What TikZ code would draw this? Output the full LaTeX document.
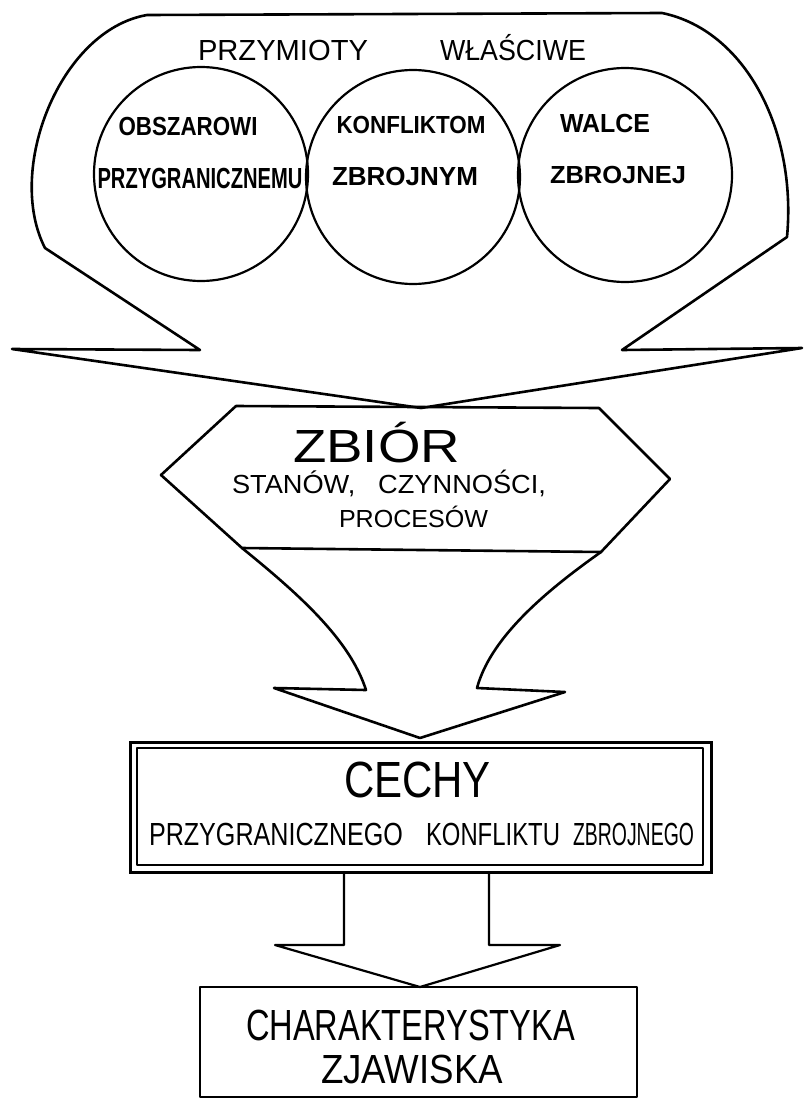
\documentclass[tikz,border=0pt]{standalone}
\usepackage{fontspec}
\usepackage{graphicx}
\setmainfont{Liberation Sans}
\newsavebox\tbox
\newsavebox\cbox
\newlength\twid
\newlength\chgt
\newcommand{\fittext}[3]{%
  \pgfmathsetmacro\myfs{#2*1.4}%
  \fontsize{\myfs pt}{\myfs pt}\selectfont
  \sbox\tbox{#3}\sbox\cbox{H}%
  \setlength\twid{\wd\tbox}\setlength\chgt{\ht\cbox}%
  \pgfmathsetmacro\myxs{#1/\twid}%
  \pgfmathsetmacro\myys{#2/\chgt}%
  \scalebox{\myxs}[\myys]{\usebox\tbox}}
\tikzset{
  outl/.style={draw=black, line width=2.6pt, line join=round, line cap=round},
  thinl/.style={draw=black, line width=2.2pt, line join=round, line cap=round},
  lab/.style={anchor=base, inner sep=0pt},
  blab/.style={lab, font=\bfseries},
  ring/.style={circle, draw=black, line width=2.2pt, inner sep=0pt}
}
\begin{document}
\begin{tikzpicture}[x=1pt,y=-1pt]
\useasboundingbox (0,0) rectangle (806,1101);
% top shape
\coordinate (A) at (147,15);
\coordinate (B) at (662,13);
\coordinate (L) at (45,248);
\coordinate (R) at (787,237);
\coordinate (tip1) at (421,408);
\draw[outl] (A) .. controls (60,30) and (5,170) .. (L)
  -- (200,350) -- (12,349) -- (tip1) -- (802,348) -- (622,350) -- (R)
  .. controls (797,130) and (745,30) .. (B) -- cycle;
% circles
\node[ring, minimum size=214pt] (c1) at (201,174) {};
\node[ring, minimum size=214pt] (c2) at (413,177) {};
\node[ring, minimum size=214pt] (c3) at (625,175) {};
% texts top
\node[lab] (t1) at (283,60) {\fittext{170}{20}{PRZYMIOTY}};
\node[lab] (t2) at (513,60) {\fittext{146}{20}{WŁAŚCIWE}};
\node[blab] (t3) at (188,135) {\fittext{139}{18}{OBSZAROWI}};
\node[blab] (t4) at (200,188) {\fittext{205}{20}{PRZYGRANICZNEMU}};
\node[blab] (t5) at (411,133) {\fittext{149}{17}{KONFLIKTOM}};
\node[blab] (t6) at (405,185) {\fittext{146}{18}{ZBROJNYM}};
\node[blab] (t7) at (605,132) {\fittext{90}{18}{WALCE}};
\node[blab] (t8) at (618,183) {\fittext{136}{17}{ZBROJNEJ}};
% hexagon
\draw[outl] (236,406) -- (599,408) -- (670,479) -- (601,552) -- (242,548) -- (161,475) -- cycle;
\node[lab] (z1) at (376.5,462) {\fittext{167}{32}{ZBIÓR}};
\node[lab] (z2) at (389,493) {\fittext{314}{18}{STANÓW,\ \ \ CZYNNOŚCI,}};
\node[lab] (z3) at (413.5,527) {\fittext{149}{17}{PROCESÓW}};
% funnel arrow
\coordinate (tip2) at (420,738);
\draw[outl] (242,548) .. controls (300,595) and (350,640) .. (366,690)
  -- (274,688) -- (tip2) -- (565,692) -- (477,688)
  .. controls (490,640) and (540,595) .. (601,552);
% CECHY box
\draw[draw=black, line width=3pt] (130,742) rectangle (711,872);
\draw[thinl] (137,748) rectangle (703,865);
\node[lab] (k1) at (417.5,797) {\fittext{147}{35}{CECHY}};
\node[lab] (k2) at (276,845) {\fittext{254}{22}{PRZYGRANICZNEGO}};
\node[lab] (k3) at (493,845) {\fittext{134}{22}{KONFLIKTU}};
\node[lab] (k4) at (633.5,845) {\fittext{121}{22}{ZBROJNEGO}};
% lower arrow
\coordinate (tip3) at (420,987);
\draw[thinl] (344,872) -- (344,945) -- (275,945) -- (tip3) -- (560,945) -- (489,945) -- (489,872);
% bottom box
\draw[thinl] (200,987) rectangle (637,1097);
\node[lab] (b1) at (410.5,1040) {\fittext{329}{30}{CHARAKTERYSTYKA}};
\node[lab] (b2) at (412,1083) {\fittext{182}{28}{ZJAWISKA}};
\end{tikzpicture}
\end{document}
